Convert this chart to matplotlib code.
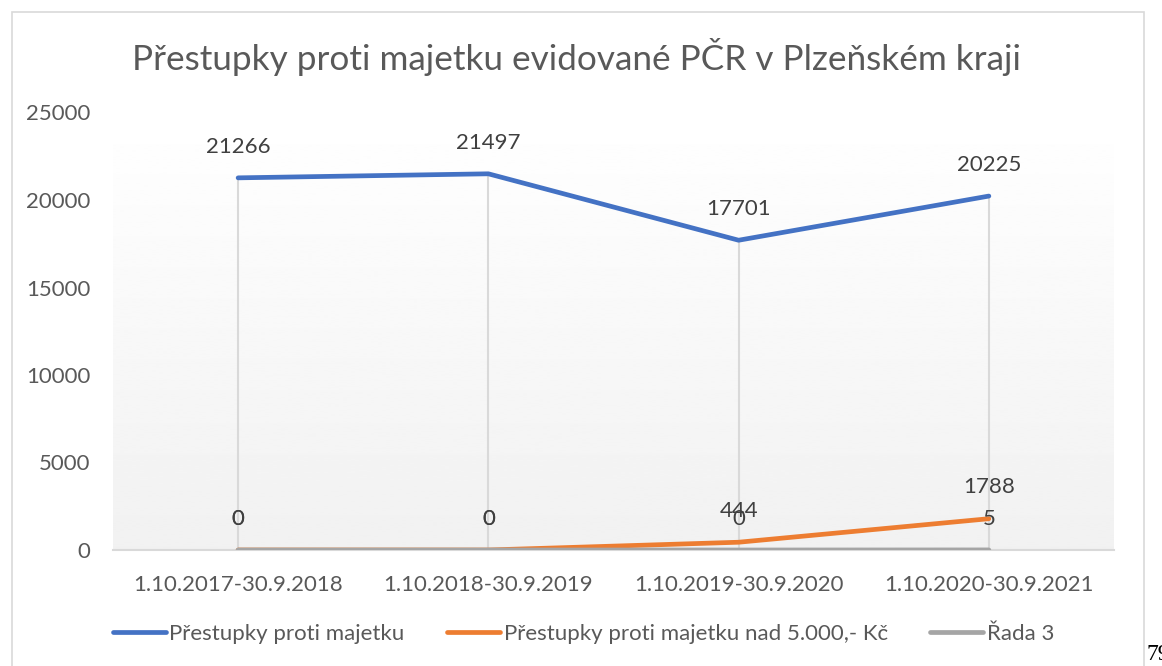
import numpy as np
import matplotlib.pyplot as plt
from matplotlib.patches import Rectangle

plt.rcParams['font.family'] = ['Lato', 'DejaVu Sans']

# data
categories = ['1.10.2017-30.9.2018', '1.10.2018-30.9.2019',
              '1.10.2019-30.9.2020', '1.10.2020-30.9.2021']
majetek = [21266, 21497, 17701, 20225]
majetek_nad_5000 = [0, 0, 444, 1788]
rada_3 = [0, 0, 0, 5]
series_names = ['Přestupky proti majetku',
                'Přestupky proti majetku nad 5.000,- Kč',
                'Řada 3']
colors = ['#4472C4', '#ED7D31', '#A5A5A5']

fig = plt.figure(figsize=(11.62, 6.66), dpi=100)
ax = fig.add_axes([113 / 1162, 1 - 550 / 666, 1001 / 1162, 437.5 / 666])

x = np.arange(len(categories))
ax.set_xlim(-0.5, len(categories) - 0.5)
ax.set_ylim(0, 25000)

# gradient background of the plot area (white top -> light grey bottom)
grad = np.linspace(1.0, 0.945, 256).reshape(-1, 1)
ax.imshow(grad, cmap='gray', vmin=0, vmax=1, aspect='auto',
          extent=(-0.5, len(categories) - 0.5, 0, 25000), zorder=0,
          interpolation='bilinear')

# drop lines
tops = [max(v) for v in zip(majetek, majetek_nad_5000, rada_3)]
ax.vlines(x, 0, tops, color='#d9d9d9', lw=1.5, zorder=1)

for vals, c in zip([majetek, majetek_nad_5000, rada_3], colors):
    ax.plot(x, vals, color=c, lw=3.4, solid_capstyle='round',
            solid_joinstyle='round', zorder=3)
    for xi, v in zip(x, vals):
        ax.annotate(str(v), (xi, v), xytext=(0, 22.5), textcoords='offset points',
                    ha='center', va='center', fontsize=16, color='#404040', zorder=4)

for s in ['top', 'right', 'left']:
    ax.spines[s].set_visible(False)
ax.spines['bottom'].set_color('#d9d9d9')
ax.spines['bottom'].set_linewidth(1.5)
ax.set_xticks(x, categories)
ax.set_yticks(range(0, 25001, 5000))
ax.tick_params(length=0, labelsize=16, labelcolor='#595959')
ax.tick_params(axis='y', pad=16.5)
ax.tick_params(axis='x', pad=18)

fig.text(0.496, 1 - 57 / 666, 'Přestupky proti majetku evidované PČR v Plzeňském kraji',
         ha='center', va='center', fontsize=25.3, color='#595959')

handles = [plt.Line2D([], [], color=c, lw=3.4, solid_capstyle='round') for c in colors]
fig.legend(handles, series_names, loc='center', bbox_to_anchor=(0.502, 1 - 634 / 666),
           ncol=3, frameon=False, fontsize=16, labelcolor='#595959',
           handlelength=2.4, handletextpad=0.15, columnspacing=1.9)

# chart border
fig.patches.append(Rectangle((12 / 1162, -0.02), 1132 / 1162, 1.02 - 12 / 666,
                             transform=fig.transFigure, fill=False,
                             edgecolor='#d9d9d9', lw=1.2))

fig.text(1146 / 1162, 1 - 655 / 666, '79', family='Liberation Serif',
         fontsize=17, ha='left', va='center', color='black')

fig.savefig('out.png', dpi=100)
